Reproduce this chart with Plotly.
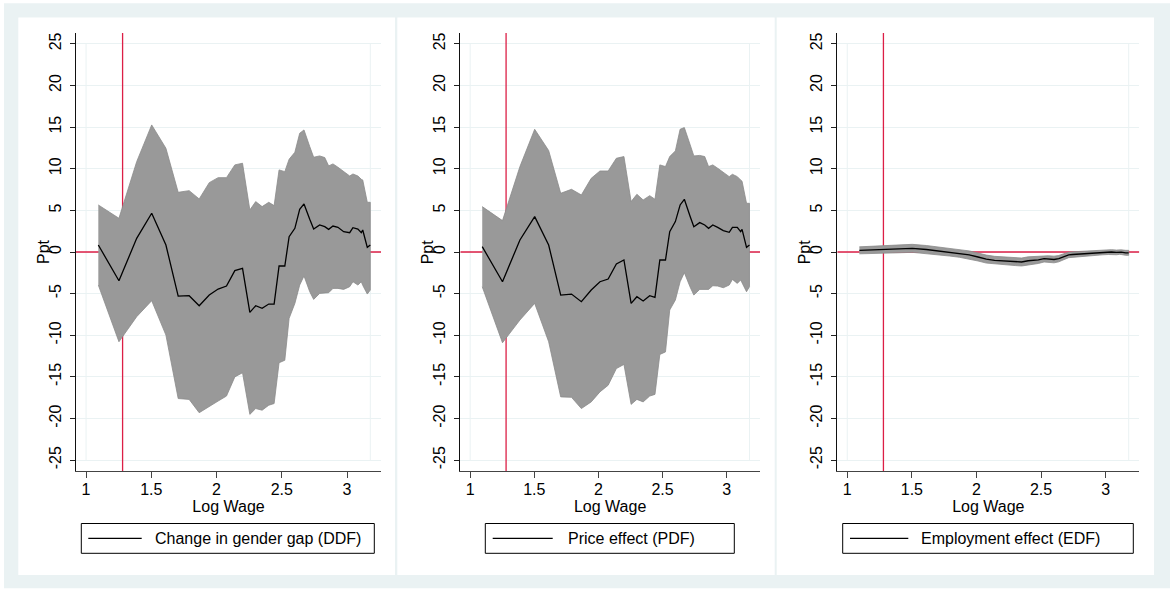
import plotly.graph_objects as go

# Log wage grid shared by all three decompositions
log_wage = [1.094, 1.252, 1.388, 1.503, 1.612, 1.706, 1.790, 1.867, 1.944, 2.012,
            2.076, 2.140, 2.199, 2.255, 2.300, 2.349, 2.400, 2.441, 2.479, 2.523,
            2.556, 2.600, 2.637, 2.670, 2.714, 2.744, 2.790, 2.829, 2.859, 2.892,
            2.930, 2.974, 3.020, 3.045, 3.083, 3.109, 3.120, 3.155, 3.178]

# Change in gender gap (DDF), point estimate and confidence band
ddf_mean = [0.84, -3.45, 1.64, 4.65, 0.84, -5.29, -5.25, -6.45, -5.17, -4.45,
            -4.09, -2.24, -1.96, -7.25, -6.45, -6.77, -6.25, -6.25, -1.68, -1.68,
            1.84, 2.84, 5.13, 5.77, 3.93, 2.76, 3.25, 3.04, 2.72, 3.12,
            2.96, 2.44, 2.32, 2.92, 2.76, 2.32, 2.64, 0.56, 0.84]
ddf_upper = [5.65, 4.05, 10.85, 15.26, 12.46, 7.17, 7.37, 6.37, 8.33, 8.93,
             8.93, 10.46, 10.66, 5.05, 6.05, 5.45, 5.97, 5.57, 9.86, 9.65,
             11.14, 11.98, 14.26, 14.66, 12.66, 11.38, 11.54, 11.34, 10.34, 10.58,
             10.18, 9.65, 9.13, 9.37, 9.13, 8.73, 8.65, 5.97, 5.97]
ddf_lower = [-3.97, -10.78, -7.77, -5.85, -9.98, -17.6, -17.7, -19.3, -18.6, -17.9,
             -17.3, -15.0, -14.5, -19.5, -18.8, -19.0, -18.4, -18.2, -13.3, -13.0,
             -7.97, -6.17, -3.97, -2.88, -4.77, -5.69, -4.97, -4.89, -4.89, -4.37,
             -4.37, -4.49, -4.17, -3.57, -3.97, -3.57, -4.0, -5.05, -4.57]

# Price effect (PDF)
pdf_mean = [0.64, -3.57, 1.44, 4.25, 0.84, -5.17, -5.05, -5.97, -4.57, -3.57,
            -3.25, -1.44, -0.96, -6.17, -5.37, -5.89, -5.25, -5.45, -0.96, -0.96,
            2.44, 3.65, 5.65, 6.33, 4.33, 3.04, 3.53, 3.25, 2.84, 3.25,
            2.96, 2.56, 2.36, 2.96, 2.96, 2.44, 2.72, 0.56, 0.84]
pdf_upper = [5.45, 3.77, 10.26, 14.74, 12.18, 7.05, 7.53, 6.85, 8.85, 9.73,
             9.73, 11.26, 11.46, 6.05, 6.93, 6.25, 6.77, 6.33, 10.46, 10.26,
             11.46, 12.14, 14.74, 14.94, 12.94, 11.54, 11.6, 11.46, 10.26, 10.46,
             10.06, 9.53, 9.05, 9.33, 9.05, 8.65, 8.5, 5.85, 5.85]
pdf_lower = [-4.17, -10.9, -8.17, -6.17, -10.78, -17.4, -17.45, -18.8, -18.0, -16.8,
             -16.0, -14.0, -13.5, -18.3, -17.7, -18.0, -17.3, -17.1, -12.3, -12.0,
             -6.97, -5.77, -3.57, -2.48, -4.17, -5.17, -4.49, -4.49, -4.49, -4.05,
             -4.09, -4.29, -3.97, -3.29, -3.77, -3.37, -3.7, -4.77, -4.17]

# Employment effect (EDF)
edf_mean = [0.20, 0.28, 0.36, 0.44, 0.30, 0.12, 0.00, -0.15, -0.35, -0.60,
            -0.85, -1.00, -1.05, -1.10, -1.15, -1.20, -1.05, -1.00, -0.95, -0.80,
            -0.85, -0.90, -0.80, -0.60, -0.35, -0.30, -0.25, -0.20, -0.20, -0.12,
            -0.10, -0.05, -0.02, 0.00, -0.05, 0.00, -0.02, -0.10, -0.10]
edf_upper = [0.62, 0.72, 0.82, 0.92, 0.78, 0.60, 0.48, 0.33, 0.13, -0.12,
             -0.37, -0.52, -0.57, -0.62, -0.67, -0.72, -0.58, -0.55, -0.52, -0.40,
             -0.45, -0.50, -0.42, -0.24, -0.02, 0.02, 0.06, 0.10, 0.10, 0.18,
             0.19, 0.24, 0.26, 0.28, 0.23, 0.28, 0.26, 0.20, 0.20]
edf_lower = [-0.22, -0.16, -0.10, -0.04, -0.18, -0.36, -0.48, -0.63, -0.83, -1.08,
             -1.33, -1.48, -1.53, -1.58, -1.63, -1.68, -1.52, -1.45, -1.38, -1.20,
             -1.25, -1.30, -1.18, -0.96, -0.68, -0.62, -0.56, -0.50, -0.50, -0.42,
             -0.39, -0.34, -0.30, -0.28, -0.33, -0.28, -0.30, -0.40, -0.40]

legend_labels = ["Change in gender gap (DDF)", "Price effect (PDF)", "Employment effect (EDF)"]
x_ticks = [1, 1.5, 2, 2.5, 3]
x_tick_text = ["1", "1.5", "2", "2.5", "3"]
y_ticks = [-25, -20, -15, -10, -5, 0, 5, 10, 15, 20, 25]
y_tick_text = [str(v) for v in y_ticks]
ref_log_wage = 1.28       # vertical reference line
grid_x = [1, 3.178]       # light vertical guides at the ends of the wage grid
x_range = [0.923, 3.26]
y_range = [-26.3, 26.3]

W, H = 1172, 590
FONT = "Liberation Sans, Arial, sans-serif"
BG = "#EAF2F3"
RED = "#DC1E46"
BAND = "#999999"


def fx(p):
    return p / W


def fy(p):
    return 1 - p / H


series = [(ddf_mean, ddf_upper, ddf_lower),
          (pdf_mean, pdf_upper, pdf_lower),
          (edf_mean, edf_upper, edf_lower)]

# pixel layout of each panel
plot_x = [(76, 381), (460.3, 760), (837.3, 1139.3)]
plot_y = (471, 33)
panel_x = [(18.3, 395), (397.3, 774.7), (776.7, 1154)]
legend_box = [(81.3, 374.3), (485.3, 734.3), (842.7, 1133.3)]
legend_line = [(88.3, 141.7), (492.7, 552.7), (850, 908.3)]
legend_text_x = [152.7, 565.7, 919.3]
legend_y = (523.5, 553.3)

fig = go.Figure()
shapes = []
annotations = []

shapes.append(dict(type="rect", xref="paper", yref="paper",
                   x0=fx(4), x1=fx(1170), y0=fy(588.3), y1=fy(3.3),
                   fillcolor=BG, line=dict(width=0), layer="below"))

text_font = dict(family=FONT, size=16, color="black")

for i, (mean, upper, lower) in enumerate(series):
    n = "" if i == 0 else str(i + 1)
    xa, ya = "x" + n, "y" + n

    shapes.append(dict(type="rect", xref="paper", yref="paper",
                       x0=fx(panel_x[i][0]), x1=fx(panel_x[i][1]),
                       y0=fy(575), y1=fy(17.5),
                       fillcolor="white", line=dict(width=0), layer="below"))

    fig.add_trace(go.Scatter(
        x=log_wage + log_wage[::-1], y=upper + lower[::-1],
        xaxis=xa, yaxis=ya, mode="lines", fill="toself", fillcolor=BAND,
        line=dict(color="#8a8a8a", width=0.8), hoverinfo="skip", showlegend=False))
    fig.add_trace(go.Scatter(
        x=log_wage, y=mean, xaxis=xa, yaxis=ya, mode="lines",
        line=dict(color="black", width=1.3), name=legend_labels[i], showlegend=False))

    for gx in grid_x:
        shapes.append(dict(type="line", xref=xa, yref=ya, x0=gx, x1=gx,
                           y0=-25, y1=25, line=dict(color=BG, width=1), layer="below"))
    shapes.append(dict(type="line", xref=xa, yref=ya, x0=ref_log_wage, x1=ref_log_wage,
                       y0=y_range[0], y1=y_range[1], line=dict(color=RED, width=1.3),
                       layer="between"))
    shapes.append(dict(type="line", xref=xa, yref=ya, x0=x_range[0], x1=x_range[1],
                       y0=0, y1=0, line=dict(color=RED, width=1.3), layer="between"))

    # legend box
    shapes.append(dict(type="rect", xref="paper", yref="paper",
                       x0=fx(legend_box[i][0]), x1=fx(legend_box[i][1]),
                       y0=fy(legend_y[1]), y1=fy(legend_y[0]),
                       line=dict(color="black", width=1), fillcolor="white", layer="above"))
    ly = (legend_y[0] + legend_y[1]) / 2
    shapes.append(dict(type="line", xref="paper", yref="paper",
                       x0=fx(legend_line[i][0]), x1=fx(legend_line[i][1]),
                       y0=fy(ly), y1=fy(ly), line=dict(color="black", width=1.3), layer="above"))
    annotations.append(dict(xref="paper", yref="paper", x=fx(legend_text_x[i]), y=fy(ly),
                            xanchor="left", yanchor="middle", showarrow=False,
                            text=legend_labels[i], font=text_font))

    # y-axis title
    annotations.append(dict(xref="paper", yref="paper", x=fx(plot_x[i][0] - 32),
                            y=fy((plot_y[0] + plot_y[1]) / 2), xanchor="center",
                            yanchor="middle", textangle=-90, showarrow=False,
                            text="Ppt", font=text_font))

    xax = dict(domain=[fx(plot_x[i][0]), fx(plot_x[i][1])], anchor=ya, range=x_range,
               tickmode="array", tickvals=x_ticks, ticktext=x_tick_text,
               ticks="outside", ticklen=6, tickcolor="#444", tickwidth=1.2,
               showline=True, linecolor="#444", linewidth=1.3, mirror=False,
               showgrid=False, zeroline=False, ticklabelstandoff=-2,
               tickfont=text_font,
               title=dict(text="Log Wage", standoff=0, font=text_font))
    yax = dict(domain=[fy(plot_y[0]), fy(plot_y[1])], anchor=xa, range=y_range,
               tickmode="array", tickvals=y_ticks, ticktext=y_tick_text, tickangle=-90,
               ticks="outside", ticklen=5, tickcolor="#222", tickwidth=1,
               showline=True, linecolor="#111", linewidth=1,
               showgrid=True, gridcolor=BG, gridwidth=1, zeroline=False,
               ticklabelstandoff=3, tickfont=text_font)
    fig.update_layout(**{"xaxis" + n: xax, "yaxis" + n: yax})

fig.update_layout(width=W, height=H, margin=dict(l=0, r=0, t=0, b=0),
                  paper_bgcolor="white", plot_bgcolor="white",
                  shapes=shapes, annotations=annotations, showlegend=False,
                  font=text_font)

fig.write_html("out.html")
